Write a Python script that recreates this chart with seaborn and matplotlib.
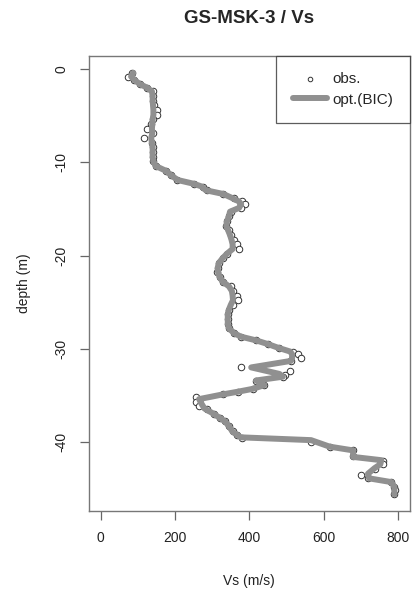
import matplotlib
matplotlib.use("Agg")
import matplotlib.pyplot as plt
import seaborn as sns
import pandas as pd

# observed Vs profile (depth in m, negative downward; Vs in m/s)
obs_depth = [-0.4, -0.8, -1.2, -1.6, -2.0, -2.4, -2.9, -3.4, -3.9, -4.4, -4.9, -5.4, -5.9,
             -6.4, -6.9, -7.4, -7.9, -8.4, -8.9, -9.4, -9.9, -10.4, -10.9, -11.4, -11.9,
             -12.3, -12.6, -13.0, -13.4, -13.8, -14.2, -14.5, -14.9, -15.3, -15.8, -16.3,
             -16.8, -17.3, -17.8, -18.3, -18.8, -19.3, -19.8, -20.3, -20.8, -21.3, -21.8,
             -22.3, -22.8, -23.3, -23.8, -24.3, -24.8, -25.3, -25.8, -26.3, -26.8, -27.3,
             -27.8, -28.3, -28.7, -29.1, -29.5, -29.9, -30.3, -30.6, -31.0, -31.3, -32.0,
             -32.4, -32.8, -33.0, -33.5, -33.9, -34.3, -34.6, -34.9, -35.2, -35.7, -36.1,
             -36.5, -37.0, -37.4, -37.8, -38.3, -38.8, -39.2, -39.6, -40.0, -40.5, -40.9,
             -41.5, -42.0, -42.4, -42.9, -43.5, -43.9, -44.3, -44.8, -45.2, -45.6]
obs_vs = [85, 73, 90, 105, 125, 140, 142, 140, 143, 152, 153, 140, 135,
          126, 140, 118, 138, 140, 140, 140, 142, 148, 175, 190, 205,
          250, 275, 285, 330, 360, 380, 388, 378, 350, 345, 340,
          338, 345, 352, 360, 368, 373, 340, 328, 318, 315, 314,
          320, 328, 350, 356, 368, 370, 355, 345, 342, 342, 342,
          345, 360, 377, 418, 450, 480, 517, 530, 539, 512, 377,
          508, 495, 490, 418, 440, 409, 370, 328, 257, 257, 265,
          285, 305, 320, 335, 345, 355, 368, 380, 566, 616, 679,
          680, 760, 760, 737, 701, 720, 782, 790, 792, 790]

# optimal (BIC) profile
opt_depth = [-0.4, -0.8, -1.2, -1.6, -2.0, -2.4, -2.9, -3.4, -3.9, -4.4, -4.9, -5.4, -5.9,
             -6.4, -6.9, -7.4, -7.9, -8.4, -8.9, -9.4, -9.9, -10.4, -10.9, -11.4, -11.9,
             -12.3, -12.6, -13.0, -13.4, -13.8, -14.2, -14.5, -14.9, -15.3, -15.8, -16.3,
             -16.8, -17.3, -17.8, -18.3, -18.8, -19.3, -19.8, -20.3, -20.8, -21.3, -21.8,
             -22.3, -22.8, -23.3, -23.8, -24.3, -24.8, -25.3, -25.8, -26.3, -26.8, -27.3,
             -27.8, -28.3, -28.7, -29.1, -29.5, -29.9, -30.3, -30.6, -31.0, -31.3, -32.0,
             -32.7, -33.0, -33.4, -33.9, -34.3, -34.6, -34.9, -35.4, -35.8, -36.4,
             -37.0, -37.4, -37.8, -38.3, -38.9, -39.5, -39.8, -40.5, -40.9, -41.6, -41.95,
             -42.4, -42.8, -43.4, -43.9, -44.3, -44.8, -45.2, -45.6]
opt_vs = [88, 82, 92, 105, 125, 138, 140, 140, 141, 142, 142, 140, 139,
          138, 139, 136, 138, 140, 140, 140, 142, 148, 175, 190, 207,
          250, 272, 283, 330, 352, 372, 378, 372, 348, 345, 340,
          338, 343, 348, 352, 355, 355, 340, 328, 318, 315, 316,
          320, 328, 345, 353, 355, 356, 350, 345, 342, 342, 342,
          345, 358, 377, 418, 450, 478, 510, 515, 515, 512, 405,
          481, 490, 418, 440, 409, 370, 328, 265, 270, 279,
          305, 320, 335, 345, 355, 377, 566, 616, 679, 679, 755,
          752, 737, 719, 722, 782, 790, 790, 790]

x_ticks = [0, 200, 400, 600, 800]
y_ticks = [0, -10, -20, -30, -40]

sns.set_theme(style="white")
plt.rcParams["font.family"] = ["Liberation Sans", "DejaVu Sans"]

fig = plt.figure(figsize=(4.19, 5.90), dpi=100)
ax = fig.add_axes([0.2117, 0.1339, 0.9785 - 0.2117, 0.9051 - 0.1339])

obs_df = pd.DataFrame({"vs": obs_vs, "depth": obs_depth})
opt_df = pd.DataFrame({"vs": opt_vs, "depth": opt_depth})

sns.scatterplot(data=obs_df, x="vs", y="depth", ax=ax, marker="o", s=22,
                facecolor="white", edgecolor="#333333", linewidth=0.7,
                zorder=2, label="obs.")
sns.lineplot(data=opt_df, x="vs", y="depth", ax=ax, sort=False, estimator=None,
             color="#909090", linewidth=4.3, zorder=3, label="opt.(BIC)")

ax.set_xlim(-32, 832)
ax.set_ylim(-47.4, 1.4)
ax.set_xticks(x_ticks)
ax.set_yticks(y_ticks)
ax.set_xticklabels([str(v) for v in x_ticks])
ax.set_yticklabels([str(v) for v in y_ticks], rotation=90, va="center")
ax.tick_params(axis="both", direction="out", length=6.5, width=0.9,
               color="#666666", labelsize=10, labelcolor="#222222", pad=8,
               bottom=True, left=True)
for sp in ax.spines.values():
    sp.set_color("#777777")
    sp.set_linewidth(1.0)

ax.set_xlabel("Vs (m/s)", fontsize=10, color="#222222", labelpad=20.5)
ax.set_ylabel("depth (m)", fontsize=10, color="#222222", labelpad=17)
ax.set_title("GS-MSK-3 / Vs", fontsize=13.5, fontweight="bold", pad=24)

leg = ax.legend(loc="upper right", borderaxespad=0, frameon=True, fancybox=False,
                fontsize=11, handlelength=2.2, handletextpad=0.4,
                labelspacing=0.4, borderpad=1.08, markerscale=0.7)
leg.get_frame().set_edgecolor("#333333")
leg.get_frame().set_linewidth(0.9)

fig.savefig("out.png", dpi=100)
